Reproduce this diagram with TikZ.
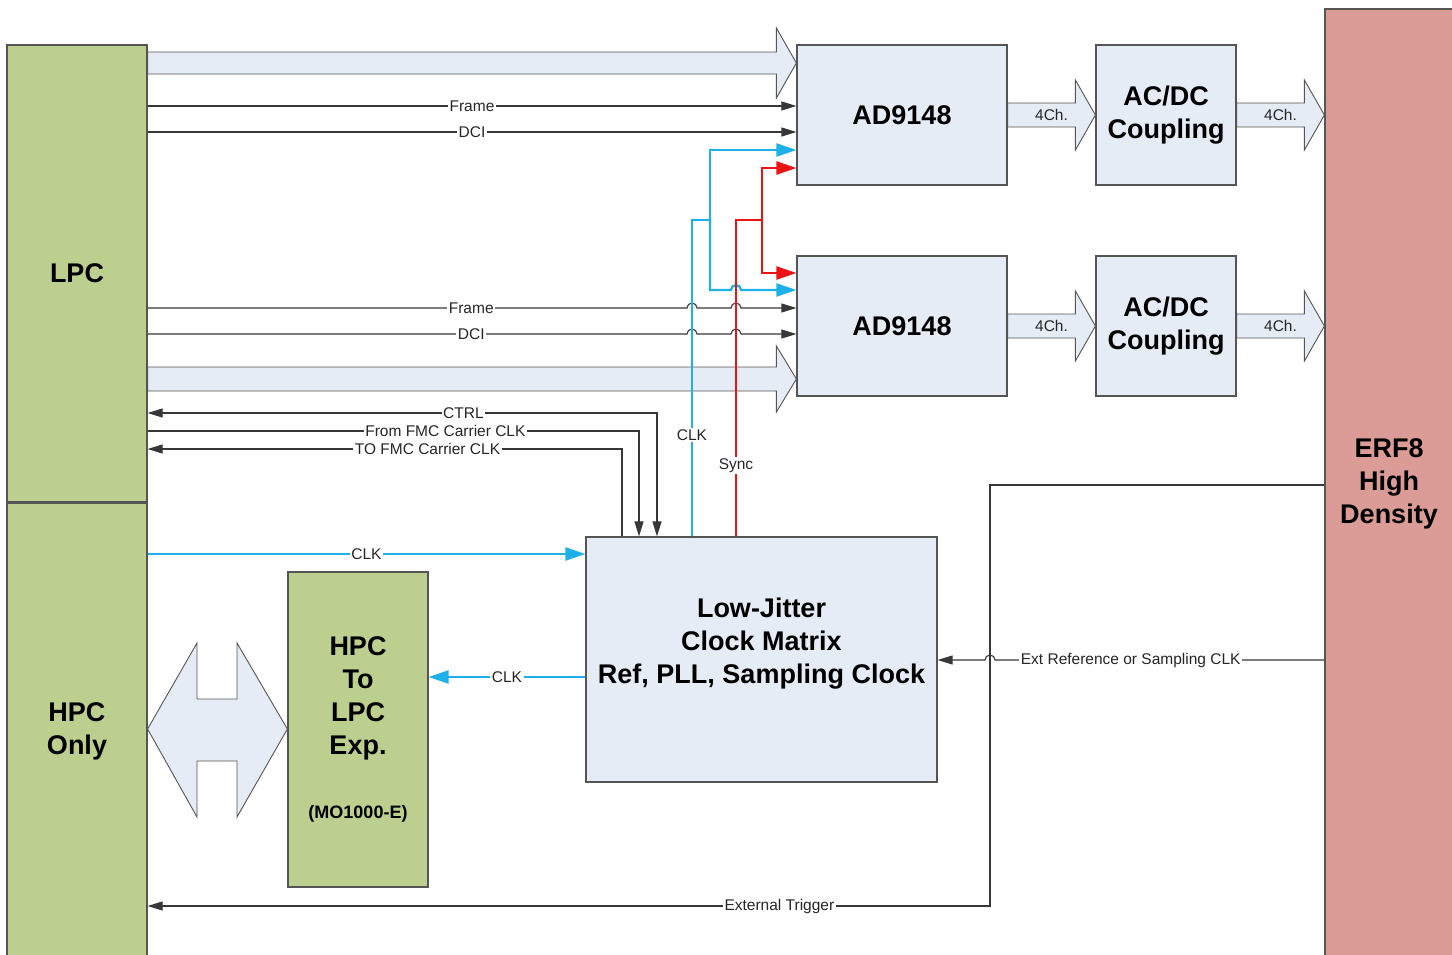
\documentclass[tikz,border=0pt]{standalone}
\usepackage{fontspec}
\setmainfont{Liberation Sans}
\usetikzlibrary{arrows.meta,calc,positioning}
\definecolor{boxfill}{RGB}{229,236,245}
\definecolor{greenfill}{RGB}{188,207,143}
\definecolor{pinkfill}{RGB}{219,156,151}
\definecolor{clkblue}{RGB}{30,176,232}
\definecolor{syncred}{RGB}{235,20,20}
\definecolor{edgegray}{RGB}{85,85,85}
\definecolor{wiregray}{RGB}{55,55,55}

% wide arrow: start, tip, shaft half width, head half width, head length
\newcommand{\fatarr}[5]{%
  \draw[fat] ($(#1)+(0,-#3)$) -- ($(#2)+(-#5,-#3)$) -- ($(#2)+(-#5,-#4)$) -- (#2)
    -- ($(#2)+(-#5,#4)$) -- ($(#2)+(-#5,#3)$) -- ($(#1)+(0,#3)$) -- cycle;}

\begin{document}
\begin{tikzpicture}[x=1pt, y=-1pt,
  blk/.style={draw=edgegray, line width=1.2pt, fill=boxfill, inner sep=0pt, align=center,
    font=\fontsize{27}{33}\selectfont\bfseries},
  conn/.style={blk, fill=greenfill},
  fat/.style={draw=edgegray, line width=0.9pt, fill=boxfill},
  wire/.style={draw=wiregray, line width=1.1pt, -{Triangle[length=15pt,width=9pt]}},
  clk/.style={draw=clkblue, line width=2.3pt, -{Triangle[length=20pt,width=13pt]}},
  sync/.style={clk, draw=syncred},
  lbl/.style={fill=white, inner sep=1.5pt, text=black!85, font=\fontsize{15.5}{18}\selectfont},
  big/.style={align=center, font=\fontsize{27}{33}\selectfont\bfseries}]

\useasboundingbox (0,0) rectangle (1452,954);

% boxes
\node[conn, minimum width=140, minimum height=457] (lpc) at (77,273.5) {LPC};
\node[conn, minimum width=140, minimum height=456] (hpc) at (77,731) {HPC\\Only};
\node[blk, fill=pinkfill, minimum width=128, minimum height=950] (erf) at (1389,484) {ERF8\\High\\Density};
\node[blk, minimum width=210, minimum height=140] (ad1) at (902,115) {AD9148};
\node[blk, minimum width=210, minimum height=140] (ad2) at (902,326) {AD9148};
\node[blk, minimum width=140, minimum height=140] (cp1) at (1166,115) {AC/DC\\Coupling};
\node[blk, minimum width=140, minimum height=140] (cp2) at (1166,326) {AC/DC\\Coupling};
\node[blk, minimum width=351, minimum height=245] (ljc) at (761.5,659.5) {};
\node[big] (ljctxt) at (761.5,644) {Low-Jitter\\Clock Matrix\\Ref, PLL, Sampling Clock};
\node[conn, minimum width=140, minimum height=315] (hpx) at (358,729.5) {};
\node[big] (hpxtxt) at (358,698.5) {HPC\\To\\LPC\\Exp.};
\node[font=\fontsize{18}{22}\selectfont\bfseries] (mo) at (358,814) {(MO1000-E)};

% wide buses
\coordinate (b1s) at (lpc.east |- 0,63);
\coordinate (b1t) at (ad1.west |- 0,63);
\coordinate (b2s) at (lpc.east |- 0,379);
\coordinate (b2t) at (ad2.west |- 0,379);
\coordinate (c1t) at (cp1.west);
\coordinate (c2t) at (cp2.west);
\coordinate (e1t) at (erf.west |- cp1.east);
\coordinate (e2t) at (erf.west |- cp2.east);
\fatarr{b1s}{b1t}{11}{35}{20}
\fatarr{b2s}{b2t}{12}{33}{20}
\fatarr{ad1.east}{c1t}{12}{35}{20}
\fatarr{ad2.east}{c2t}{12}{35}{20}
\fatarr{cp1.east}{e1t}{12}{35}{20}
\fatarr{cp2.east}{e2t}{12}{35}{20}
\node[lbl, fill=none] (ch1) at ($(ad1.east)!0.5!(cp1.west)$) {4Ch.};
\node[lbl, fill=none] (ch2) at ($(ad2.east)!0.5!(cp2.west)$) {4Ch.};
\node[lbl, fill=none] (ch3) at ($(cp1.east)!0.5!(e1t)$) {4Ch.};
\node[lbl, fill=none] (ch4) at ($(cp2.east)!0.5!(e2t)$) {4Ch.};

% HPC <-> expansion
\draw[fat] (hpc.east |- 0,729) -- (197,643) -- (197,699) -- (237,699) -- (237,643)
  -- (hpx.west |- 0,729) -- (237,817) -- (237,761) -- (197,761) -- (197,817) -- cycle;

% Frame / DCI
\draw[wire] (lpc.east |- 0,106) -- node[lbl]{Frame} (ad1.west |- 0,106);
\draw[wire] (lpc.east |- 0,132) -- node[lbl]{DCI} (ad1.west |- 0,132);
\draw[wire] (lpc.east |- 0,308) -- node[lbl, pos=0.6]{Frame} (687,308)
  arc[start angle=180, end angle=360, radius=5] -- (731,308)
  arc[start angle=180, end angle=360, radius=5] -- (ad2.west |- 0,308);
\draw[wire] (lpc.east |- 0,334) -- node[lbl, pos=0.6]{DCI} (687,334)
  arc[start angle=180, end angle=360, radius=5] -- (731,334)
  arc[start angle=180, end angle=360, radius=5] -- (ad2.west |- 0,334);

% CLK and Sync to the converters
\draw[clk] (ljc.north -| 692,0) -- node[lbl, pos=0.32]{CLK} (692,220) -| (710,150) -- (ad1.west |- 0,150);
\draw[clk] (710,220) -- (710,290) -- (731,290)
  arc[start angle=180, end angle=360, radius=5] -- (ad2.west |- 0,290);
\draw[sync] (ljc.north -| 736,0) -- node[lbl, pos=0.224]{Sync} (736,220) -| (762,168) -- (ad1.west |- 0,168);
\draw[sync] (762,220) -- (762,273) -- (ad2.west |- 0,273);

% carrier control
\draw[wire, {Triangle[length=15pt,width=9pt]}-{Triangle[length=15pt,width=9pt]}]
  (lpc.east |- 0,413) -- node[lbl, pos=0.62]{CTRL} (657,413) -- (ljc.north -| 657,0);
\draw[wire] (lpc.east |- 0,431) -- node[lbl, pos=0.606]{From FMC Carrier CLK} (639,431) -- (ljc.north -| 639,0);
\draw[wire] (ljc.north -| 622,0) -- (622,449) -- node[lbl, pos=0.41]{TO FMC Carrier CLK} (lpc.east |- 0,449);

% clocks
\draw[clk] (lpc.east |- 0,554) -- node[lbl]{CLK} (ljc.west |- 0,554);
\draw[clk] (ljc.west |- 0,677) -- node[lbl]{CLK} (hpx.east |- 0,677);

% ERF8 signals
\draw[wire] (erf.west |- 0,660) -- node[lbl, pos=0.588]{Ext Reference or Sampling CLK} (995,660)
  arc[start angle=0, end angle=-180, radius=5] -- (ljc.east |- 0,660);
\draw[wire] (erf.west |- 0,485) -- (990,485) -- (990,906) -- node[lbl, pos=0.25]{External Trigger} (hpc.east |- 0,906);

\end{tikzpicture}
\end{document}
